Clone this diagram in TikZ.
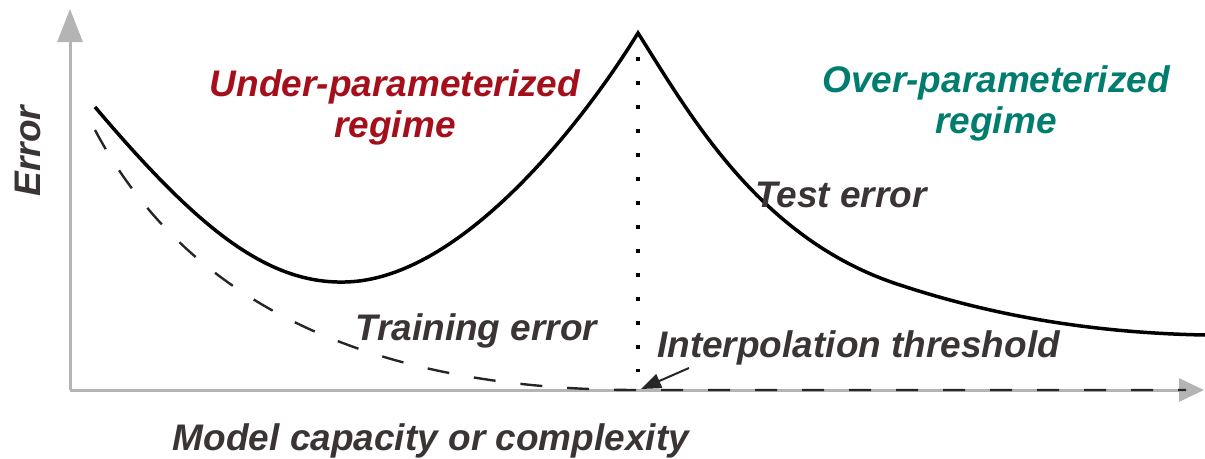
\documentclass[tikz,border=0pt]{standalone}
\usepackage{fontspec}
\setmainfont{Liberation Sans}
\usetikzlibrary{arrows.meta}
\definecolor{axisgray}{HTML}{B4B4B4}
\definecolor{labeltext}{HTML}{3A3435}
\definecolor{underred}{HTML}{A50F1B}
\definecolor{overteal}{HTML}{007D6E}
\tikzset{
  lbl/.style={font=\fontsize{37}{41}\selectfont\bfseries\itshape, text=labeltext, inner sep=0pt},
  axisline/.style={draw=axisgray, line width=3pt},
  testcurve/.style={draw=black, line width=3.5pt},
  traincurve/.style={draw=black!85, line width=2.4pt, dash pattern=on 22pt off 25pt},
  threshold/.style={draw=black, line width=4pt, dash pattern=on 4pt off 20pt},
  pointer/.style={draw=black!85, line width=2pt, -{Triangle[length=20pt,width=15pt]}}
}
\begin{document}
\begin{tikzpicture}[x=1pt,y=-1pt]
\useasboundingbox (0,0) rectangle (1205,458);

% axes
\coordinate (origin) at (70,390);
\coordinate (ytop) at (70,9);
\coordinate (xend) at (1204,390);
\draw[axisline, -{Triangle[length=33pt,width=25pt]}] (origin) -- (ytop);
\draw[axisline, -{Triangle[length=25pt,width=23pt]}] (origin) -- (xend);

% training error: falls to zero at the threshold, then stays on the axis
\coordinate (trstart) at (95,130);
\coordinate (peakbase) at (638,390);
\coordinate (trend) at (1186,390);
\draw[traincurve] (trstart) .. controls (180,290) and (350,390) .. (peakbase) -- (trend);

% test error: U-shape, peak at the threshold, then a second descent
\coordinate (tstart) at (95,107);
\coordinate (tmin) at (345,282);
\coordinate (peak) at (638,33);
\coordinate (tmid) at (900,285);
\coordinate (tend) at (1205,335);
\draw[testcurve, line join=miter]
  (tstart) .. controls (195,225) and (265,284) .. (tmin)
  .. controls (460,280) and (582,124) .. (peak)
  .. controls (690,115) and (760,240) .. (tmid)
  .. controls (1000,318) and (1100,333) .. (tend);

% interpolation threshold
\coordinate (dtop) at (638,57);
\coordinate (dbot) at (638,372);
\draw[threshold] (dtop) -- (dbot);

% labels
\node[lbl, text=underred, align=center, anchor=base] (under) at (395,137) {Under-parameterized\\regime};
\node[lbl, text=overteal, align=center, anchor=base] (over) at (996,133) {Over-parameterized\\regime};
\node[lbl, anchor=base west] (test) at (755,207) {Test error};
\node[lbl, anchor=base west] (train) at (355,340) {Training error};
\node[lbl, anchor=base west] (interp) at (657,357) {Interpolation threshold};
\node[lbl, anchor=base] (xlabel) at (431,450) {Model capacity or complexity};
\node[lbl, rotate=90, anchor=base] (ylabel) at (40,151) {Error};

% pointer from the threshold label to the axis
\coordinate (ptrstart) at (689,368);
\coordinate (ptrtip) at (641,389);
\draw[pointer] (ptrstart) -- (ptrtip);
\end{tikzpicture}
\end{document}
